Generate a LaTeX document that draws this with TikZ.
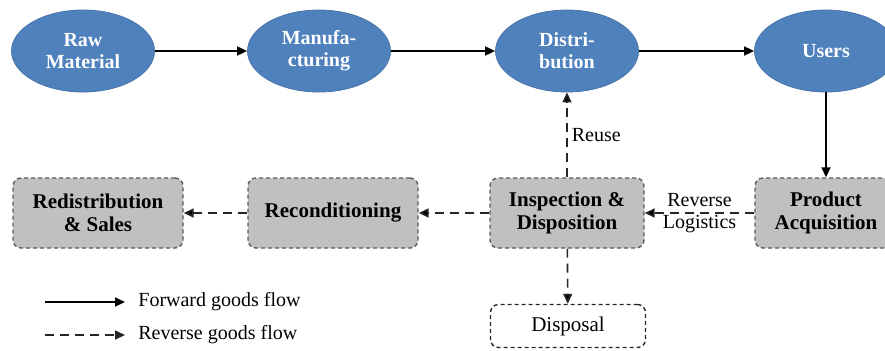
\documentclass[tikz,border=0pt]{standalone}
\usepackage{fontspec}
\setmainfont{Liberation Serif}
\usetikzlibrary{shapes.geometric, arrows.meta, positioning}
\definecolor{stageblue}{HTML}{4F81BD}
\definecolor{boxgray}{HTML}{C0C0C0}
\definecolor{edgegray}{HTML}{5A5A5A}
\tikzset{
    stage/.style={ellipse, fill=stageblue, draw=stageblue!90!black, line width=0.4pt, minimum width=71.5pt, minimum height=41pt, inner sep=0pt, align=center, text=white, font=\fontsize{10}{11}\selectfont\bfseries},
    activity/.style={rounded corners=4pt, fill=boxgray, draw=edgegray, dash pattern=on 2pt off 1.5pt, line width=0.7pt, minimum height=35pt, align=center, font=\fontsize{10.5}{11.5}\selectfont\bfseries},
    fwd/.style={-{Triangle[length=5pt,width=4.5pt]}, line width=0.9pt},
    rev/.style={-{Triangle[length=5pt,width=4.5pt]}, line width=0.8pt, dash pattern=on 4.5pt off 3pt, draw=black!85},
    flowlabel/.style={align=center, font=\fontsize{10}{11}\selectfont, inner sep=2pt}
}
\begin{document}
\begin{tikzpicture}[x=0.5pt, y=-0.5pt]
    \useasboundingbox (0,0) rectangle (885,350);
    \node[stage]  (raw)   at (83,51)  {Raw\\Material};
    \node[stage]  (manu)  at (319,51) {Manufa-\\cturing};
    \node[stage]  (dist)  at (567,51) {Distri-\\bution};
    \node[stage]  (users) at (826,51) {Users};
    \node[activity, minimum width=77pt]  (insp)  at (567,213) {Inspection \&\\Disposition};
    \node[activity, minimum width=71pt]  (acq)   at (826,213) {Product\\Acquisition};
    \node[activity, minimum width=85pt]  (recon) at (333,213) {Reconditioning};
    \node[activity, minimum width=85pt]  (redis) at (98,213)  {Redistribution\\\& Sales};
    \node[activity, fill=white, draw=black!85, minimum width=77.5pt, minimum height=21.5pt, font=\fontsize{10.5}{11.5}\selectfont] (disp) at (568,326) {Disposal};

    \path[fwd]   (raw) edge (manu)
                 (manu) edge (dist)
                 (dist) edge (users)
                 (users) edge (acq);
    \path[rev]   (acq) edge node[flowlabel] {Reverse\\Logistics} (insp)
                 (insp) edge node[flowlabel, right] {Reuse} (dist)
                        edge (recon)
                        edge (disp)
                 (recon) edge (redis);

    \coordinate (fwdA) at (45,302);
    \coordinate (revA) at (45,335);
    \node[flowlabel, anchor=west] (fwdkey) at (134,302) {Forward goods flow};
    \node[flowlabel, anchor=west] (revkey) at (134,335) {Reverse goods flow};
    \draw[fwd, shorten >=4.5pt] (fwdA) -- (fwdkey.west);
    \draw[rev, shorten >=4.5pt] (revA) -- (revkey.west);
\end{tikzpicture}
\end{document}
